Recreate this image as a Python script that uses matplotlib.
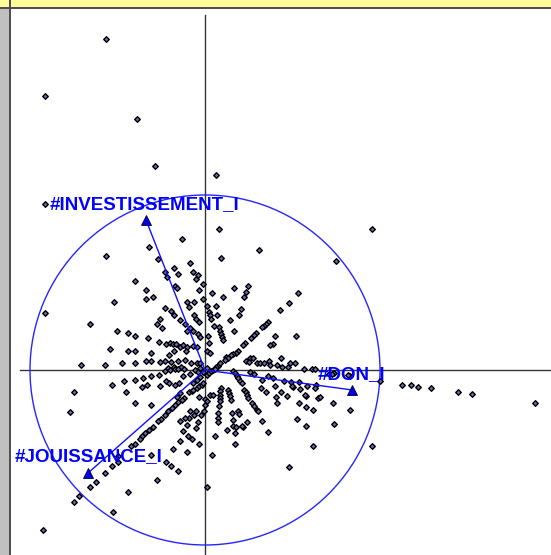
import numpy as np
import matplotlib
matplotlib.use("Agg")
import matplotlib.pyplot as plt
from matplotlib.patches import Circle, Rectangle

# variables (correlations avec les axes 1 et 2)
variables = ['#INVESTISSEMENT_I', '#DON_I', '#JOUISSANCE_I']
load_x = [-0.337, 0.840, -0.669]
load_y = [0.857, -0.114, -0.589]
# position des étiquettes (coin gauche, centre vertical)
lab_pos = [(-1.55, 1.65), (1.13, -0.05), (-1.90, -0.87)]

# coordonnées des individus sur le plan factoriel 1-2
scores = [
    (-0.99, 3.31), (-1.60, 2.74), (-0.68, 2.51), (-0.50, 2.04), (0.11, 1.95),
    (-1.60, 1.66), (1.67, 1.41), (1.31, 1.09), (0.93, 0.77), (-1.60, 0.57),
    (3.30, -0.33), (1.97, -0.15), (2.06, -0.15), (2.13, -0.17), (2.26, -0.18),
    (2.53, -0.22), (2.67, -0.24), (1.75, -0.11), (1.45, -0.06), (1.45, -0.40),
    (1.29, -0.54), (1.67, -0.76), (1.08, -0.76), (1.01, -0.56), (0.92, -0.49),
    (0.63, -0.62), (0.30, -0.74), (0.10, -0.66), (-1.62, -1.60), (-0.92, -1.42),
    (-1.31, -1.32), (-1.26, -1.26), (-1.15, -1.17), (-1.09, -1.12), (-1.00, -1.03),
    (-0.93, -0.96), (-0.87, -0.92), (-0.77, -1.22), (-0.48, -1.10), (-0.54, -0.85),
    (-1.35, -0.42), (-0.70, -0.33), (-0.54, -0.35), (0.02, -1.17), (0.07, -0.85),
    (-0.27, -1.01), (-0.34, -0.96), (-0.39, -0.92), (-0.32, -0.79), (-0.18, -0.82),
    (-0.06, -0.74), (-0.25, -0.71), (-0.13, -0.69), (0.22, -0.60), (0.30, -0.63),
    (0.28, -0.56), (0.57, -0.51), (0.84, -0.97),
    (-0.23, 1.31), (-0.56, 1.23), (-0.99, 1.14), (-0.47, 1.11), (-0.15, 1.07),
    (-0.31, 1.02), (-0.40, 0.98), (-0.27, 0.96), (-0.12, 0.98), (-0.38, 0.93),
    (-0.09, 0.91), (-0.07, 0.95), (-0.70, 0.89), (-0.30, 0.84), (-0.28, 0.82),
    (-0.59, 0.80), (-0.06, 0.80), (-0.02, 0.86), (-0.52, 0.73), (-0.59, 0.71),
    (-0.91, 0.68), (-0.02, 0.71), (-0.18, 0.68), (-0.11, 0.68), (-0.40, 0.62),
    (-0.34, 0.59), (-0.16, 0.63), (-0.31, 0.55), (-0.11, 0.55), (-0.09, 0.51),
    (-0.45, 0.51), (-1.15, 0.46), (-0.48, 0.46), (-0.43, 0.42), (-0.25, 0.50),
    (-0.20, 0.46), (-0.15, 0.42), (-0.18, 0.39), (-0.12, 0.39), (-0.88, 0.39),
    (-0.77, 0.37), (-0.70, 0.34), (-0.57, 0.32), (-0.07, 0.36), (-0.05, 0.33),
    (-0.46, 0.28), (-0.39, 0.26), (-0.35, 0.27), (-0.32, 0.26), (-0.29, 0.26),
    (-0.25, 0.23), (-0.22, 0.25), (-0.18, 0.23), (-0.12, 0.24), (-0.08, 0.23),
    (-0.95, 0.21), (-0.77, 0.19), (-0.70, 0.19), (-0.54, 0.17), (-0.36, 0.15),
    (-0.31, 0.19), (-0.19, 0.19), (-1.24, 0.05), (-1.00, 0.05), (-0.83, 0.07),
    (-0.70, 0.07), (-0.59, 0.09), (-0.54, 0.09), (-0.45, 0.08), (-0.40, 0.09),
    (-0.34, 0.08), (-0.27, 0.09), (-0.20, 0.10), (-0.14, 0.07), (-0.08, 0.07),
    (-0.05, 0.07), (-0.24, 0.03), (-0.31, 0.03), (-0.37, 0.02), (-0.06, 0.48),
    (0.14, 1.41), (0.54, 1.20), (0.16, 1.12), (0.29, 0.82), (0.43, 0.84),
    (0.41, 0.78), (0.39, 0.73), (0.07, 0.77), (0.18, 0.73), (0.84, 0.67),
    (0.75, 0.60), (0.36, 0.61), (0.34, 0.55), (0.02, 0.64), (0.04, 0.58),
    (0.05, 0.55), (0.06, 0.51), (0.11, 0.64), (0.12, 0.55), (0.25, 0.50),
    (0.09, 0.44), (0.14, 0.43), (0.15, 0.39), (0.16, 0.36), (0.17, 0.33),
    (0.18, 0.30), (0.29, 0.39), (0.03, 0.34), (0.63, 0.48), (0.61, 0.46),
    (0.59, 0.44), (0.57, 0.43), (0.70, 0.34), (0.91, 0.34), (0.51, 0.37),
    (0.49, 0.35), (0.46, 0.32), (0.40, 0.27), (0.38, 0.25), (0.68, 0.26),
    (0.65, 0.25), (0.33, 0.19), (0.31, 0.17), (0.28, 0.16), (0.26, 0.15),
    (0.21, 0.13), (0.13, 0.04), (0.11, 0.03), (0.02, 0.19), (0.05, 0.17),
    (0.45, 0.12), (0.48, 0.12), (0.41, 0.09), (0.44, 0.08), (0.52, 0.07),
    (0.55, 0.07), (0.59, 0.07), (0.64, 0.09), (0.65, 0.05), (0.72, 0.05),
    (0.76, 0.12), (0.77, 0.03), (0.83, 0.03), (0.85, 0.07), (0.90, 0.07),
    (0.99, 0.01), (1.07, 0.01), (1.10, 0.01),
    (1.29, -0.03), (0.28, -0.01), (1.02, -0.16), (1.11, -0.15), (0.94, -0.12),
    (0.86, -0.12), (0.79, -0.11), (0.88, -0.17), (0.82, -0.26), (0.71, -0.27),
    (1.01, -0.26), (0.94, -0.33), (1.13, -0.28), (1.28, -0.33), (1.01, -0.37),
    (1.08, -0.40), (0.38, -0.57), (0.31, -0.57), (0.56, -0.18),
    (-1.31, -0.22), (-0.93, -0.15), (-0.81, -0.11), (-0.70, -0.10), (-0.62, -0.08),
    (-0.54, -0.06), (-0.46, -0.05), (-0.79, -0.22), (-0.63, -0.17), (-0.58, -0.15),
    (-0.45, -0.16), (-0.39, -0.11), (-0.36, -0.13), (-0.30, -0.15), (-0.26, -0.13),
    (-0.22, -0.06), (-0.15, -0.04), (-0.40, -0.01), (-0.35, 0.00), (-0.30, 0.01),
    (-0.27, 0.01), (-0.21, 0.01), (-0.16, -0.22), (-0.13, -0.21), (-0.12, -0.20),
    (-0.08, -0.18), (-0.06, -0.16), (-0.03, -0.15), (-0.02, -0.13), (-0.21, -0.28),
    (-0.23, -0.30), (-0.27, -0.32), (-0.30, -0.35), (-0.33, -0.38), (-0.37, -0.41),
    (-0.40, -0.45), (-0.44, -0.49), (-0.47, -0.51), (-0.52, -0.57), (-0.56, -0.60),
    (-0.60, -0.63), (-0.63, -0.66), (-0.65, -0.69), (-0.70, -0.74), (-0.74, -0.76),
    (-0.87, -0.86), (-0.06, -0.27), (0.00, -0.29), (0.00, -0.35), (-0.01, -0.41),
    (-0.04, -0.45), (-0.09, -0.41), (-0.15, -0.41), (-0.11, -0.45), (-0.16, -0.48),
    (-0.20, -0.48), (-0.25, -0.51), (-0.18, -0.55), (-0.09, -0.58), (-0.07, -0.52),
    (-0.22, -0.61), (-0.17, -0.66),
    (0.02, -0.05), (0.04, -0.03), (0.06, -0.01), (0.08, 0.00), (0.10, 0.01),
    (0.30, -0.03), (0.32, -0.06), (0.33, -0.08), (0.35, -0.11), (0.37, -0.13),
    (0.39, -0.20), (0.41, -0.22), (0.42, -0.25), (0.43, -0.28), (0.47, -0.33),
    (0.49, -0.36), (0.52, -0.40), (0.53, -0.41), (0.16, -0.18), (0.15, -0.21),
    (0.15, -0.25), (0.15, -0.28), (0.15, -0.31), (0.14, -0.36), (0.13, -0.43),
    (0.13, -0.48), (0.13, -0.52), (0.23, -0.20), (0.24, -0.23), (0.25, -0.26),
    (0.26, -0.30), (0.05, -0.25), (0.08, -0.25), (0.02, -0.31), (0.27, -0.43),
    (0.28, -0.50), (0.33, -0.41), (0.34, -0.44), (0.42, -0.52), (0.37, -0.56),
    (0.61, -0.22), (0.70, -0.16), (0.72, -0.33), (0.76, -0.22), (0.87, -0.16),
    (0.95, -0.19), (1.00, -0.25), (1.10, -0.18), (1.15, -0.27), (0.45, -0.02),
    (0.49, -0.04), (0.57, -0.10), (0.63, -0.06), (0.68, -0.08), (1.24, -0.04),
    (1.27, -0.04), (1.43, -0.05),
    (0.04, 0.27), (0.23, 0.12), (0.20, 0.10), (0.15, 0.07), (-0.05, 0.02),
    (-0.02, -0.02), (0.02, 0.02), (-0.10, 0.00), (-0.07, -0.02), (-0.05, -0.07),
    (-0.08, -0.10), (-0.12, -0.13), (-0.25, -0.23), (-0.28, -0.27),
]

R = 1.75  # rayon du cercle des corrélations, à l'échelle des individus

fig = plt.figure(figsize=(5.51, 5.55), dpi=100)
ax = fig.add_axes([0, 0, 1, 1])
ax.set_xlim(-2.05, 3.46)
ax.set_ylim(-1.85, 3.70)
ax.axis('off')

# cadre de la fenêtre : bande grise à gauche, bande jaune en haut
ax.add_patch(Rectangle((0, 0), 9 / 551, 1, transform=ax.transAxes,
                       color='#c0c0c0', zorder=5, lw=0))
ax.add_patch(Rectangle((9 / 551, 0), 1.5 / 551, 1, transform=ax.transAxes,
                       color='#505050', zorder=6, lw=0))
ax.add_patch(Rectangle((0, 1 - 7 / 555), 1, 7 / 555, transform=ax.transAxes,
                       color='#ffff99', zorder=5, lw=0))
ax.add_patch(Rectangle((0, 1 - 8.5 / 555), 1, 1.5 / 555, transform=ax.transAxes,
                       color='#505050', zorder=6, lw=0))

# axes factoriels
ax.plot([0, 0], [-1.85, 3.55], color='#333333', lw=1, zorder=1)
ax.plot([-1.85, 3.46], [0, 0], color='#333333', lw=1, zorder=1)

# cercle des corrélations
ax.add_patch(Circle((0, 0), R, fill=False, ec='#2525ff', lw=1, zorder=2))

# individus
pts = np.array(scores)
ax.scatter(pts[:, 0], pts[:, 1], marker='D', s=8, facecolor='#6a6ab0',
           edgecolor='#000000', linewidths=1.0, zorder=3)

# variables
for name, lx, ly, (tx, ty) in zip(variables, load_x, load_y, lab_pos):
    ax.plot([0, lx * R], [0, ly * R], color='#1010ff', lw=1, zorder=4)
    ax.plot(lx * R, ly * R, marker='^', ms=6.5, color='#0000e0',
            mec='#000040', mew=0.6, zorder=4)
    ax.text(tx, ty, name, ha='left', va='center', fontsize=13.5,
            fontweight='bold', color='#0000ff', family='Liberation Sans',
            zorder=7)

fig.savefig('out.png', dpi=100)
